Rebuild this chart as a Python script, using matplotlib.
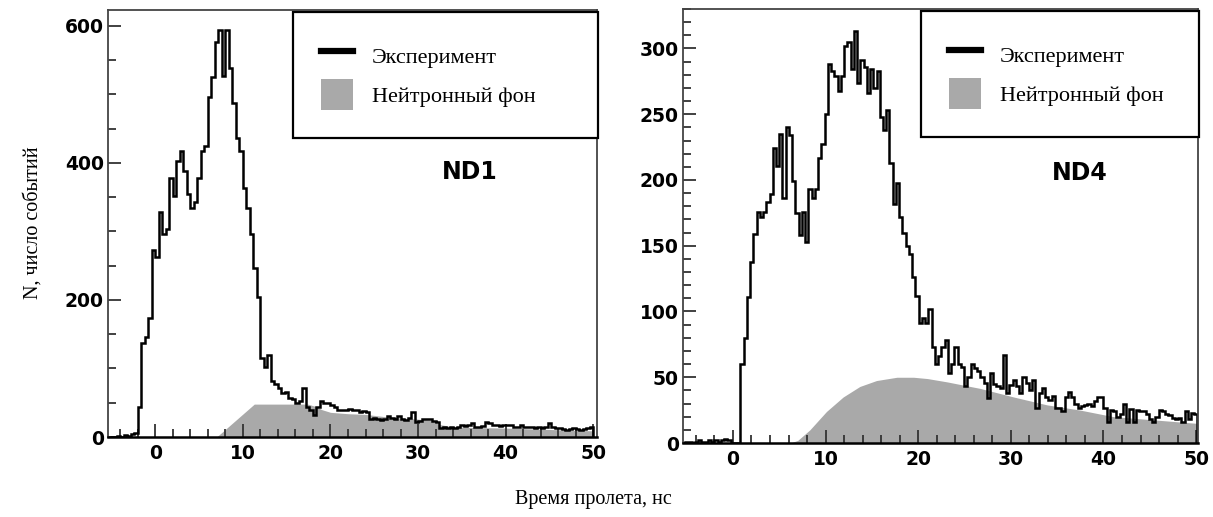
import matplotlib
matplotlib.use("Agg")
import matplotlib.pyplot as plt
import numpy as np
from matplotlib.lines import Line2D
from matplotlib.patches import Patch
from matplotlib.ticker import MultipleLocator

# ND1: 0.4 ns bins starting at -5.2 ns
nd1_start = -5.2
nd1_width = 0.4
nd1_counts = [
    0, 0, 2, 0, 3, 2, 4, 6,
    44, 137, 146, 173, 273, 263, 328, 296, 303, 378,
    351, 402, 417, 388, 355, 334, 343, 378, 417, 425,
    496, 525, 577, 594, 526, 594, 538, 487, 436, 417,
    364, 334, 296, 247, 204, 116, 102,
    120, 81, 78, 71, 64, 66, 57, 55, 49, 52, 71, 44, 40,
    32, 44, 52, 50, 49, 46, 44, 40, 39, 40,
    41, 39, 40, 37, 38, 36, 27, 28, 27, 25,
    26, 30, 28, 26, 30, 26, 25, 28, 37, 22,
    24, 27, 26, 27, 24, 22, 13, 14, 13, 14,
    13, 15, 18, 16, 17, 20, 15, 14, 16, 22,
    20, 18, 17, 16, 17, 18, 17, 14, 15, 17,
    15, 14, 15, 13, 15, 13, 14, 20, 14, 13,
    13, 12, 10, 12, 13, 11, 10, 12, 13, 15,
]
nd1_bg_t = [7.0, 11.3, 17.4, 18.2, 19.0, 20.0, 22.0, 24.0, 26.0, 28.0,
            30.0, 31.5, 32.5, 34.0, 36.0, 40.0, 45.0, 50.0]
nd1_bg_n = [0, 48, 48, 45, 40, 36, 34, 33, 30, 28,
            26, 24, 18, 15, 14, 13, 11, 9]

# ND4: 0.35 ns bins starting at -5.5 ns
nd4_start = -5.5
nd4_width = 0.35
nd4_counts = [
    0, 1, 1, 0, 1, 2, 1, 1, 2, 1, 2, 1, 2, 3, 2, 0, 0, 0,
    60, 80, 111, 138, 159, 176, 172, 176, 183, 189,
    224, 211, 235, 186, 240, 234, 199, 175, 158, 176,
    153, 193, 186, 193, 217, 227, 250, 288, 283, 279,
    268, 279, 302, 305, 284, 313, 274, 291, 286, 266,
    284, 270, 283, 248, 238, 253, 213, 182, 198, 172,
    160, 150, 144, 126, 112, 91, 95, 91, 102, 73,
    60, 66, 73, 78, 53, 60, 73, 60, 58, 43,
    50, 60, 57, 55, 50, 46, 34, 53, 45, 43,
    42, 67, 38, 44, 48, 43, 38, 50, 46, 40,
    48, 27, 38, 42, 35, 33, 36, 27, 27, 24,
    35, 39, 35, 30, 27, 28, 29, 30, 28, 32,
    35, 35, 27, 16, 25, 24, 20, 22, 30, 16,
    26, 16, 25, 24, 24, 22, 18, 16, 20, 25,
    24, 22, 21, 19, 18, 19, 16, 24, 18, 23, 22,
]
nd4_bg_t = [6.2, 7.0, 8.3, 10.1, 11.9, 13.7, 15.5, 17.7, 19.5, 21.0,
            23.1, 24.9, 26.7, 30.3, 33.9, 37.5, 41.1, 44.7, 50.0]
nd4_bg_n = [0, 2, 10, 24, 35, 43, 47.5, 50, 50, 49,
            46.5, 44, 41.5, 35, 29, 25, 20, 18, 15]

labels = ["Эксперимент", "Нейтронный фон"]
x_label = "Время пролета, нс"
y_label = "N, число событий"

SANS = "DejaVu Sans"
SERIF = "Liberation Serif"
GRAY = "#a9a9a9"


def draw_panel(ax, start, width, counts, bg_t, bg_n, name, xlim, ylim,
               ymajor, yminor, leg_x, name_pos):
    edges = start + width * np.arange(len(counts) + 1)
    ax.fill_between(bg_t, bg_n, color=GRAY, lw=0, zorder=1)
    ax.stairs(counts, edges, color="black", lw=1.8, zorder=2)

    ax.set_xlim(*xlim)
    ax.set_ylim(*ylim)
    ax.xaxis.set_major_locator(MultipleLocator(10))
    ax.xaxis.set_minor_locator(MultipleLocator(2))
    ax.yaxis.set_major_locator(MultipleLocator(ymajor))
    ax.yaxis.set_minor_locator(MultipleLocator(yminor))
    ax.tick_params(which="both", direction="in", top=False, right=False,
                   width=1.3, color="#333333")
    ax.tick_params(which="major", length=9.5, labelsize=13.5)
    ax.tick_params(axis="x", which="major", pad=5)
    ax.tick_params(axis="y", which="major", pad=3)
    ax.tick_params(which="minor", length=5.5)
    for lab in ax.get_xticklabels() + ax.get_yticklabels():
        lab.set_fontfamily(SANS)
        lab.set_fontweight("bold")

    for side in ["left", "top", "right"]:
        ax.spines[side].set_color("#444444")
        ax.spines[side].set_linewidth(1.3)
    ax.spines["bottom"].set_color("black")
    ax.spines["bottom"].set_linewidth(1.8)

    handles = [Line2D([], [], color="black", lw=4.5),
               Patch(facecolor=GRAY, edgecolor="none")]
    leg = ax.legend(handles, labels, loc="upper left",
                    bbox_to_anchor=(leg_x, 0.5, 1.002 - leg_x, 0.495),
                    mode="expand", borderaxespad=0, frameon=True,
                    fancybox=False, borderpad=1.25, handlelength=1.45,
                    handleheight=1.79, handletextpad=0.85, labelspacing=0.35,
                    prop={"family": SERIF, "size": 16})
    frame = leg.get_frame()
    frame.set_edgecolor("black")
    frame.set_linewidth(1.6)
    frame.set_alpha(None)
    frame.set_facecolor("white")

    ax.text(name_pos[0], name_pos[1], name, transform=ax.transAxes,
            ha="center", va="center", fontsize=17, fontweight="bold",
            family=SANS)


def main():
    fig = plt.figure(figsize=(12.13, 5.17), dpi=100)
    ax1 = fig.add_axes([0.089, 0.1547, 0.403, 0.826])
    ax2 = fig.add_axes([0.563, 0.1431, 0.4246, 0.8395])

    draw_panel(ax1, nd1_start, nd1_width, nd1_counts, nd1_bg_t, nd1_bg_n,
               "ND1", (-5.4, 50.4), (0, 623), 200, 50, 0.378, (0.74, 0.62))
    draw_panel(ax2, nd4_start, nd4_width, nd4_counts, nd4_bg_t, nd4_bg_n,
               "ND4", (-5.4, 50.2), (0, 330), 50, 10, 0.462, (0.771, 0.622))

    fig.text(0.027, 0.57, y_label, rotation=90, ha="center", va="center",
             family=SERIF, fontsize=14.5)
    fig.text(0.489, 0.033, x_label, ha="center", va="center",
             family=SERIF, fontsize=14.5)

    fig.savefig("out.png", dpi=100)


if __name__ == "__main__":
    main()
